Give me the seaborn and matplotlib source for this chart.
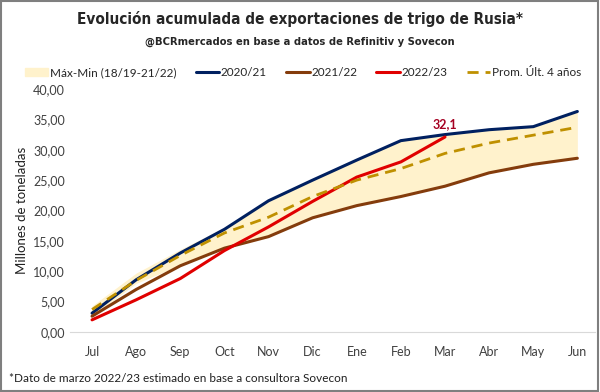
import pandas as pd
import matplotlib.pyplot as plt
import seaborn as sns
from matplotlib.patches import Rectangle, Patch
from matplotlib.lines import Line2D
from matplotlib.ticker import FuncFormatter
from matplotlib import font_manager

# datos (millones de toneladas)
meses = ['Jul', 'Ago', 'Sep', 'Oct', 'Nov', 'Dic', 'Ene', 'Feb', 'Mar', 'Abr', 'May', 'Jun']
c2020 = [3.1, 8.6, 13.0, 16.9, 21.6, 25.0, 28.3, 31.5, 32.5, 33.3, 33.8, 36.3]
c2021 = [2.6, 7.0, 10.9, 13.8, 15.7, 18.8, 20.8, 22.3, 24.0, 26.2, 27.6, 28.6]
c2022 = [2.0, 5.3, 8.8, 13.4, 17.3, 21.5, 25.5, 28.0, 32.1]
prom = [3.7, 8.5, 12.6, 16.3, 18.9, 22.3, 25.0, 26.9, 29.4, 31.1, 32.4, 33.7]
band_max = [4.3, 9.7, 13.6, 17.2, 21.6, 25.0, 28.3, 31.5, 32.5, 33.3, 33.8, 36.3]
band_min = [2.6, 8.0, 11.0, 13.8, 15.7, 18.8, 20.8, 22.3, 24.0, 26.2, 27.6, 28.6]

col_navy = '#002060'
col_brown = '#843C0C'
col_red = '#E00000'
col_gold = '#BF9000'
col_band = '#FFF2CC'

sns.set_style('white')
plt.rcParams['font.family'] = ['Lato', 'DejaVu Sans']

# fuente angosta para el titulo si existe
narrow = None
for f in font_manager.findSystemFonts():
    n = f.lower()
    if 'dejavusanscondensed-bold.ttf' in n or 'liberationsansnarrow-bold.ttf' in n:
        narrow = f
        if 'liberation' in n:
            break

fig = plt.figure(figsize=(6, 3.92), dpi=100)
ax = fig.add_axes([70 / 600, 60 / 392, 525 / 600, 243 / 392])

x = list(range(len(meses)))
ax.fill_between(x, band_min, band_max, color=col_band, lw=0)
sns.lineplot(x=x, y=c2020, color=col_navy, lw=2.2, ax=ax)
sns.lineplot(x=x, y=c2021, color=col_brown, lw=2.2, ax=ax)
sns.lineplot(x=x[:len(c2022)], y=c2022, color=col_red, lw=2.2, ax=ax)
sns.lineplot(x=x, y=prom, color=col_gold, lw=2.0, ax=ax)
ax.lines[-1].set_dashes([4, 2.5])

ax.annotate('32,1', (len(c2022) - 1, c2022[-1]), xytext=(0, 5), textcoords='offset points',
            ha='center', va='bottom', color='#A50021', fontweight='bold', fontsize=9)

ax.set_xlim(-0.5, 11.4)
ax.set_ylim(0, 40)
ax.set_xticks(x)
ax.set_xticklabels(meses)
ax.set_yticks(range(0, 41, 5))
ax.yaxis.set_major_formatter(FuncFormatter(lambda v, p: f'{v:.2f}'.replace('.', ',')))
ax.tick_params(axis='both', length=0, labelsize=9, colors='#404040')
ax.tick_params(axis='x', pad=10)
ax.set_ylabel('Millones de toneladas', fontsize=9.5, color='#202020')
for s in ['top', 'right', 'left']:
    ax.spines[s].set_visible(False)
ax.spines['bottom'].set_color('#D9D9D9')

if narrow:
    fp_t = font_manager.FontProperties(fname=narrow, size=11)
    fp_s = font_manager.FontProperties(fname=narrow, size=8)
else:
    fp_t = font_manager.FontProperties(family='DejaVu Sans', weight='bold', size=10)
    fp_s = font_manager.FontProperties(family='DejaVu Sans', weight='bold', size=7.5)
fig.text(0.5, 0.952, 'Evolución acumulada de exportaciones de trigo de Rusia*', ha='center', va='center',
         fontproperties=fp_t)
fig.text(0.5, 0.893, '@BCRmercados en base a datos de Refinitiv y Sovecon', ha='center', va='center',
         fontproperties=fp_s)

handles = [Patch(color=col_band),
           Line2D([], [], color=col_navy, lw=2.2),
           Line2D([], [], color=col_brown, lw=2.2),
           Line2D([], [], color=col_red, lw=2.2),
           Line2D([], [], color=col_gold, lw=2.0, dashes=[4, 2.5])]
labels = ['Máx-Min (18/19-21/22)', '2020/21', '2021/22', '2022/23', 'Prom. Últ. 4 años']
fig.legend(handles, labels, loc='center', bbox_to_anchor=(0.505, 0.815), ncol=5, frameon=False,
           fontsize=8.5, handlelength=2.0, handletextpad=0.15, columnspacing=1.6)

fig.text(0.015, 0.035, '*Dato de marzo 2022/23 estimado en base a consultora Sovecon', fontsize=8.5,
         va='center', color='#202020')

fig.patches.append(Rectangle((0.002, 0.003), 0.995, 0.994, transform=fig.transFigure,
                             fill=False, ec='#7F7F7F', lw=1.5))

plt.savefig('out.png', dpi=100)
